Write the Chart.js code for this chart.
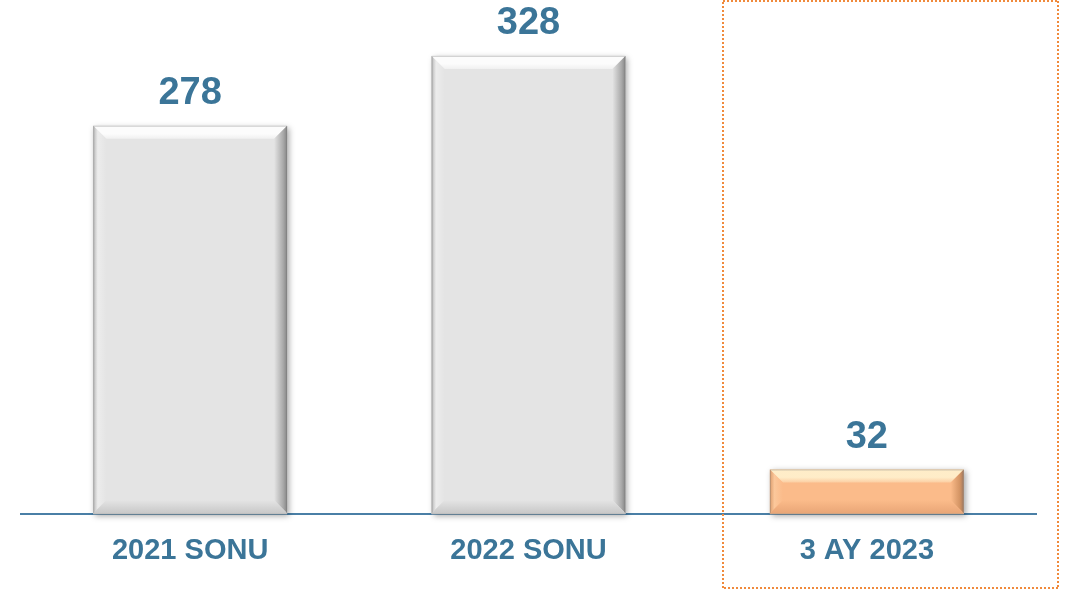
<!DOCTYPE html>
<html>
<head>
<meta charset="utf-8">
<script src="https://cdn.jsdelivr.net/npm/chart.js@4/dist/chart.umd.min.js"></script>
<style>
html,body{margin:0;padding:0;background:#fff;}
#wrap{width:1076px;height:590px;position:relative;}
</style>
</head>
<body>
<div id="wrap"><canvas id="c" width="1076" height="590"></canvas></div>
<script>
const categories = ["2021 SONU", "2022 SONU", "3 AY 2023"];
const values = [278, 328, 32];
const valueLabels = ["278", "328", "32"];

const LABEL_COLOR = "#3b7598";
const FONT = "'Liberation Sans', Arial, sans-serif";

const palettes = [
  {base:"#e4e4e4", light:"#ffffff", side:"#f2f2f2", dark:"#9a9a9a", bottom:"#c8c8c8", edge:"#6e6e6e"},
  {base:"#e4e4e4", light:"#ffffff", side:"#f2f2f2", dark:"#9a9a9a", bottom:"#c8c8c8", edge:"#6e6e6e"},
  {base:"#fbbb8a", light:"#fff2cf", side:"#fcd0a6", dark:"#c98a5a", bottom:"#e9a677", edge:"#8a6a55"}
];

const bevelPlugin = {
  id: "bevel",
  beforeDatasetsDraw(chart) {
    const ctx = chart.ctx;
    const meta = chart.getDatasetMeta(0);
    meta.data.forEach((bar) => {
      const p = bar.getProps(["x","y","base","width"], true);
      const l = p.x - p.width/2, t = p.y, w = p.width, h = p.base - p.y;
      ctx.save();
      ctx.shadowColor = "rgba(0,0,0,0.35)";
      ctx.shadowBlur = 6;
      ctx.shadowOffsetX = 2;
      ctx.shadowOffsetY = 2;
      ctx.fillStyle = "#dddddd";
      ctx.fillRect(l, t, w, h);
      ctx.restore();
    });
  },
  afterDatasetsDraw(chart) {
    const ctx = chart.ctx;
    const meta = chart.getDatasetMeta(0);
    meta.data.forEach((bar, i) => {
      const pal = palettes[i];
      const p = bar.getProps(["x","y","base","width"], true);
      const l = p.x - p.width/2, r = p.x + p.width/2, t = p.y, b = p.base - 1;
      const bv = Math.min(13, (b - t) / 3.2);
      ctx.save();
      let g = ctx.createLinearGradient(0, t, 0, t + bv);
      g.addColorStop(0, pal.light);
      g.addColorStop(0.6, pal.light);
      g.addColorStop(1, pal.side);
      ctx.beginPath();
      ctx.moveTo(l, t); ctx.lineTo(r, t); ctx.lineTo(r - bv, t + bv); ctx.lineTo(l + bv, t + bv); ctx.closePath();
      ctx.fillStyle = g; ctx.globalAlpha = 0.9; ctx.fill();
      ctx.globalAlpha = 1;
      g = ctx.createLinearGradient(l, 0, l + bv, 0);
      g.addColorStop(0, pal.dark);
      g.addColorStop(0.35, pal.side);
      g.addColorStop(1, pal.base);
      ctx.beginPath();
      ctx.moveTo(l, t); ctx.lineTo(l + bv, t + bv); ctx.lineTo(l + bv, b - bv); ctx.lineTo(l, b); ctx.closePath();
      ctx.fillStyle = g; ctx.globalAlpha = 0.6; ctx.fill();
      ctx.globalAlpha = 1;
      g = ctx.createLinearGradient(r - bv, 0, r, 0);
      g.addColorStop(0, pal.base);
      g.addColorStop(0.7, pal.dark);
      g.addColorStop(1, pal.edge);
      ctx.beginPath();
      ctx.moveTo(r, t); ctx.lineTo(r, b); ctx.lineTo(r - bv, b - bv); ctx.lineTo(r - bv, t + bv); ctx.closePath();
      ctx.fillStyle = g; ctx.globalAlpha = 0.8; ctx.fill();
      ctx.globalAlpha = 1;
      g = ctx.createLinearGradient(0, b - bv, 0, b);
      g.addColorStop(0, pal.base);
      g.addColorStop(1, pal.bottom);
      ctx.beginPath();
      ctx.moveTo(l, b); ctx.lineTo(l + bv, b - bv); ctx.lineTo(r - bv, b - bv); ctx.lineTo(r, b); ctx.closePath();
      ctx.fillStyle = g; ctx.fill();
      ctx.strokeStyle = "rgba(120,120,120,0.35)";
      ctx.lineWidth = 1;
      ctx.strokeRect(l + 0.5, t + 0.5, r - l - 1, b - t);
      ctx.restore();

      ctx.save();
      ctx.fillStyle = LABEL_COLOR;
      ctx.font = "bold 38px " + FONT;
      ctx.textAlign = "center";
      ctx.textBaseline = "middle";
      ctx.fillText(valueLabels[i], p.x, p.y - 32);
      ctx.restore();
    });
  },
  afterDraw(chart) {
    const ctx = chart.ctx;
    const xs = chart.scales.x;
    const cx = xs.getPixelForValue(2);
    const left = Math.round(cx - 144), right = Math.round(cx + 191);
    ctx.save();
    ctx.strokeStyle = "#f08a3c";
    ctx.lineWidth = 2;
    ctx.setLineDash([2, 2]);
    ctx.beginPath();
    ctx.moveTo(left, 1); ctx.lineTo(right, 1);
    ctx.moveTo(right, 1); ctx.lineTo(right, 588);
    ctx.moveTo(right, 588); ctx.lineTo(left, 588);
    ctx.moveTo(left, 588); ctx.lineTo(left, 1);
    ctx.stroke();
    ctx.restore();
  }
};

new Chart(document.getElementById("c"), {
  type: "bar",
  data: {
    labels: categories,
    datasets: [{
      data: values,
      backgroundColor: palettes.map(p => p.base),
      borderWidth: 0,
      categoryPercentage: 1,
      barPercentage: 0.573
    }]
  },
  options: {
    responsive: false,
    animation: false,
    devicePixelRatio: 1,
    layout: { padding: { left: 21, right: 40, top: 0, bottom: 3 } },
    plugins: { legend: { display: false }, tooltip: { enabled: false } },
    scales: {
      x: {
        grid: { display: false, drawTicks: false },
        border: { display: true, color: "#4a7fa6", width: 2 },
        ticks: {
          color: LABEL_COLOR,
          font: { family: FONT, size: 29, weight: "bold" },
          padding: 19
        }
      },
      y: {
        display: false,
        min: 0,
        max: 368
      }
    }
  },
  plugins: [bevelPlugin]
});
</script>
</body>
</html>
